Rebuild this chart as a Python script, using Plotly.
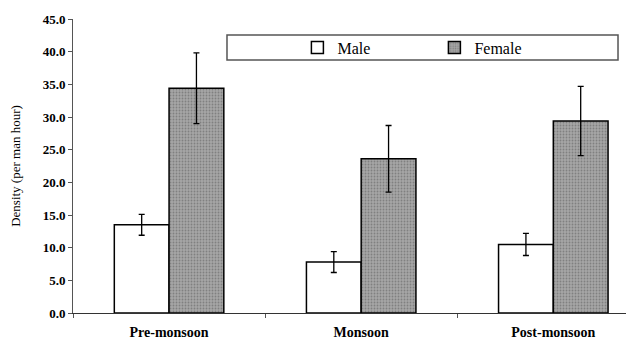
import plotly.graph_objects as go

seasons = ["Pre-monsoon", "Monsoon", "Post-monsoon"]
male = [13.5, 7.8, 10.5]
male_err = [1.6, 1.6, 1.7]
female = [34.4, 23.6, 29.4]
female_err = [5.4, 5.1, 5.3]
y_ticks = [0, 5, 10, 15, 20, 25, 30, 35, 40, 45]
y_tick_labels = [f"{v:.1f}" for v in y_ticks]

font_family = "Liberation Serif"

fig = go.Figure()
fig.add_trace(go.Bar(
    name="Male", x=seasons, y=male,
    marker=dict(color="white", line=dict(color="black", width=1.5)),
    error_y=dict(type="data", array=male_err, color="black", thickness=1.3, width=3),
))
fig.add_trace(go.Bar(
    name="Female", x=seasons, y=female,
    marker=dict(color="#9a9a9a", line=dict(color="black", width=1.5),
                pattern=dict(shape=".", bgcolor="#a6a6a6", fgcolor="#5a5a5a",
                             size=3, solidity=0.3, fillmode="overlay")),
    error_y=dict(type="data", array=female_err, color="black", thickness=1.3, width=3),
))

fig.update_layout(
    width=634, height=339, autosize=False,
    margin=dict(l=65, r=8, t=11, b=34, autoexpand=False),
    paper_bgcolor="white", plot_bgcolor="white",
    barmode="group", bargap=0.43, bargroupgap=0,
    font=dict(family=font_family, color="black", size=13),
    showlegend=True,
    legend=dict(orientation="h", x=0.40, y=0.903, xanchor="left", yanchor="middle",
                bgcolor="rgba(0,0,0,0)", entrywidth=92, entrywidthmode="pixels",
                font=dict(size=16, family=font_family), itemwidth=30,
                tracegroupgap=0),
    shapes=[dict(type="rect", xref="paper", yref="paper",
                 x0=0.2745, x1=0.9715, y0=0.8605, y1=0.9456,
                 line=dict(color="#555555", width=1.5), fillcolor="rgba(0,0,0,0)")],
)
fig.update_xaxes(
    type="category", range=[-0.5, 2.42], automargin=False,
    showline=True, linecolor="#333333", linewidth=1,
    ticks="outside", ticklen=4, tickcolor="#555555", tickson="boundaries",
    tickfont=dict(size=14, family=font_family, weight="bold"),
    ticklabelstandoff=6,
    showgrid=False, zeroline=False,
)
fig.update_yaxes(
    range=[0, 45], tickvals=y_ticks, ticktext=y_tick_labels, automargin=False,
    showline=True, linecolor="#555555", linewidth=1,
    ticks="outside", ticklen=4, tickcolor="#555555",
    tickfont=dict(size=13, family=font_family, weight="bold"),
    showgrid=False, zeroline=False,
    title=dict(text="Density (per man hour)", font=dict(size=13, family=font_family), standoff=23),
)

fig.write_html("out.html")
